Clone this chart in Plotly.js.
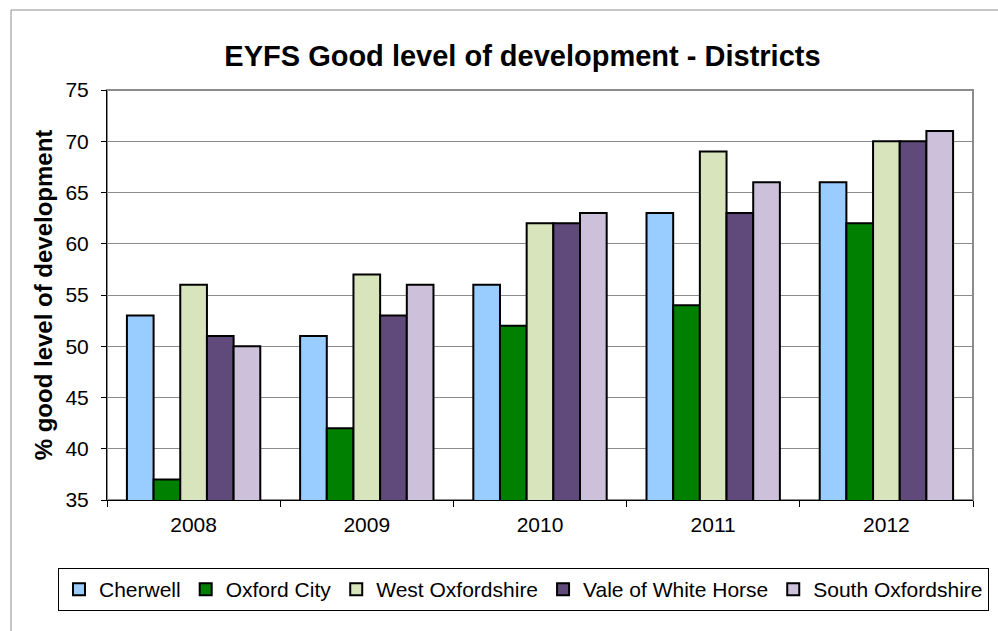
<!DOCTYPE html>
<html><head><meta charset="utf-8">
<script src="https://cdn.plot.ly/plotly-3.0.1.min.js"></script>
<style>body{margin:0;padding:0;background:#fff}#chart{width:998px;height:631px}</style>
</head><body><div id="chart"></div>
<script>
var years = ["2008","2009","2010","2011","2012"];
var seriesNames = ["Cherwell","Oxford City","West Oxfordshire","Vale of White Horse","South Oxfordshire"];
var cherwell = [53,51,56,63,66];
var oxfordCity = [37,42,52,54,62];
var westOxon = [56,57,62,69,70];
var vale = [51,53,62,63,70];
var southOxon = [50,56,63,66,71];
var colors = ["#99CCFF","#008000","#D8E4BC","#604A7B","#CCC0DA"];
var values = [cherwell, oxfordCity, westOxon, vale, southOxon];

var traces = values.map(function(v,i){
  return {type:"bar", x:years, y:v, name:seriesNames[i],
    marker:{color:colors[i], line:{color:"#000", width:2}}};
});

var layout = {
  width:998, height:631,
  margin:{l:107, r:25, t:90, b:131},
  paper_bgcolor:"#fff", plot_bgcolor:"#fff",
  font:{family:"Liberation Sans, Arial, sans-serif", color:"#000"},
  title:{text:"<b>EYFS Good level of development - Districts</b>", font:{size:29, color:"#000"},
    x:0.5235, xref:"container", xanchor:"center", y:0.912, yref:"container", yanchor:"middle"},
  barmode:"group", bargap:0.23, bargroupgap:0,
  xaxis:{type:"category", showline:true, linecolor:"#000", linewidth:1, ticks:"outside",
    tickson:"boundaries", ticklen:6, tickcolor:"#000", tickfont:{size:21}, ticklabelstandoff:6,
    showgrid:false, zeroline:false},
  yaxis:{range:[35,75], dtick:5, showline:true, linecolor:"#000", linewidth:1, ticks:"outside",
    ticklen:5, tickcolor:"#000", tickfont:{size:21}, ticklabelstandoff:8, showgrid:true, gridcolor:"#8c8c8c", gridwidth:1,
    zeroline:false, title:{text:"<b>% good level of development</b>", font:{size:24}, standoff:6}},
  legend:{orientation:"h", x:-49/866, xref:"paper", xanchor:"left", y:-68/410, yref:"paper", yanchor:"top",
    bordercolor:"#000", borderwidth:1, font:{size:21}, itemwidth:30, tracegroupgap:0,
    traceorder:"normal"},
  shapes:[
    {type:"rect", xref:"paper", yref:"paper", x0:0, x1:1, y0:0, y1:1, line:{color:"#8c8c8c", width:2}, layer:"below"},
    {type:"rect", xref:"paper", yref:"paper", x0:-96/866, x1:1100/866, y0:-200/410, y1:1+80/410, line:{color:"#8c8c8c", width:1}, fillcolor:"rgba(0,0,0,0)"}
  ]
};
Plotly.newPlot("chart", traces, layout, {displayModeBar:false, staticPlot:true});
</script></body></html>
